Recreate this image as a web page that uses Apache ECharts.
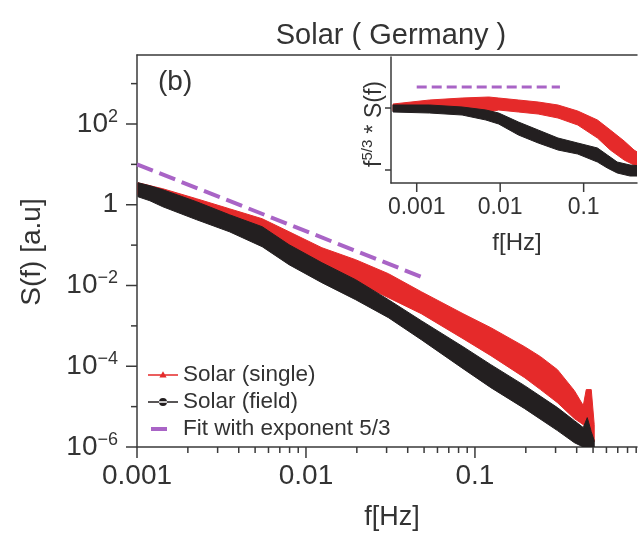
<!DOCTYPE html>
<html><head><meta charset="utf-8">
<script src="https://cdn.jsdelivr.net/npm/echarts@6/dist/echarts.min.js"></script>
<style>html,body{margin:0;padding:0;background:#fff}#c{width:640px;height:536px}</style>
</head><body><div id="c"></div>
<script>
const FONT = 'Liberation Sans, Arial, Helvetica, sans-serif';
const TEXT = '#333333';
const AXIS = '#3a3a3a';
const RED = '#e52a2a';
const BLACK = '#231f20';
const PURPLE = '#a964c6';

const titleText = 'Solar ( Germany )';
const panelLabel = '(b)';
const seriesNames = ['Solar (single)', 'Solar (field)', 'Fit with exponent 5/3'];
const mainXName = 'f[Hz]';
const mainYName = 'S(f) [a.u]';
const insetXName = 'f[Hz]';

// ---- main panel ticks ----
const mainXRange = [0.001, 0.91];
const mainYRange = [1e-6, 5117];
const mainXTickValues = [0.001, 0.01, 0.1];
const mainXTickLabels = ['0.001', '0.01', '0.1'];
const mainXMinorTicks = [0.002,0.003,0.004,0.005,0.006,0.007,0.008,0.009,
  0.02,0.03,0.04,0.05,0.06,0.07,0.08,0.09,0.2,0.3,0.4,0.5,0.6,0.7,0.8,0.9];
const mainYTickValues = [1e-6, 1e-4, 1e-2, 1, 1e2];
const mainYTickLabels = ['10^\u22126', '10^\u22124', '10^\u22122', '1', '10^2'];
const mainYMinorTicks = [1e-5, 1e-3, 0.1, 10, 1e3];

// ---- main panel data (band envelopes) ----
const singleFreq  = [0.001014,0.001422,0.002254,0.003524,0.005509,0.007943,0.01242,0.01968,0.03078,0.04812,0.085,0.1242,0.1968,0.2444,0.3078,0.3876,0.4377,0.4558,0.4878,0.508];
const singleUpper = [3.505,2.489,1.408,0.796,0.450,0.2146,0.0862,0.0435,0.01959,0.00702,0.002004,9.02e-4,3.05e-4,1.728e-4,8.24e-5,2.49e-5,1.059e-5,2.64e-5,2.64e-5,3.58e-6];
const singleLower = [1.768,1.0,0.534,0.2853,0.1361,0.0686,0.02758,0.01242,0.00499,0.002004,4.82e-4,1.83e-4,5.22e-5,2.64e-5,1.256e-5,5.05e-6,3.58e-6,3.02e-6,2.40e-6,1.36e-6];

const fieldFreq  = [0.001014,0.001192,0.001422,0.002254,0.003524,0.005509,0.007943,0.01242,0.01968,0.03078,0.04812,0.085,0.1242,0.1968,0.3078,0.3876,0.4377,0.462,0.4878,0.508];
const fieldUpper = [3.505,2.953,2.351,1.186,0.5655,0.2853,0.1023,0.03667,0.01391,0.00445,0.001345,3.05e-4,1.095e-4,3.31e-5,9.45e-6,4.50e-6,3.02e-6,5.34e-6,2.40e-6,1.44e-6];
const fieldLower = [1.578,1.256,0.892,0.4253,0.2146,0.0913,0.03272,0.01173,0.00445,0.001596,4.55e-4,8.72e-5,2.95e-5,8.92e-6,2.55e-6,1.28e-6,1e-6,1e-6,1e-6,1e-6];

const fitFreq = [0.001, 0.048];
const fitValue = [10, 0.0165];

// ---- inset ----
const insetXRange = [4.92e-4, 0.4357];
const insetYRange = [0.00381, 44.2];
const insetXTickValues = [0.001, 0.01, 0.1];
const insetXTickLabels = ['0.001', '0.01', '0.1'];
const insetYTicks = [1, 0.01];

const insetSingleFreq  = [5.2e-4,0.001425,0.003502,0.00731,0.009598,0.01656,0.02855,0.04924,0.08492,0.1464,0.2087,0.3057,0.4015,0.4989];
const insetSingleUpper = [1.346,1.812,2.10,2.264,2.10,1.812,1.561,1.25,0.800,0.410,0.1951,0.0862,0.0442,0.0305];
const insetSingleLower = [0.800,0.928,0.862,0.743,0.862,0.743,0.640,0.476,0.2829,0.1077,0.0442,0.0210,0.0145,0.0116];

const insetFieldFreq  = [5.2e-4,0.001425,0.003502,0.006738,0.009598,0.01656,0.02855,0.04924,0.08492,0.1464,0.1923,0.2526,0.3599,0.4989];
const insetFieldUpper = [1.25,1.25,1.077,0.862,0.690,0.3535,0.1951,0.1077,0.0743,0.0513,0.0305,0.0181,0.0145,0.01346];
const insetFieldLower = [0.743,0.690,0.594,0.410,0.3047,0.1346,0.0743,0.0442,0.0328,0.0181,0.0116,0.0080,0.0064,0.0064];

const insetFitFreq = [0.001, 0.052];
const insetFitValue = [4.76, 4.76];

// ---- helpers ----
function lookup(v, vals, labels) {
  for (let i = 0; i < vals.length; i++) {
    if (Math.abs(Math.log10(v) - Math.log10(vals[i])) < 1e-4) return labels[i];
  }
  return '';
}
function zip(a, b) { return a.map((x, i) => [x, b[i]]); }

function bandSeries(name, color, freq, lower, upper, xi, yi) {
  return {
    name: name, type: 'custom', xAxisIndex: xi, yAxisIndex: yi, clip: true, silent: true,
    color: color, itemStyle: { color: color }, z: 2,
    data: freq.map((f, i) => [f, lower[i], upper[i]]),
    encode: { x: 0, y: [1, 2] },
    renderItem: function (params, api) {
      if (params.dataIndexInside !== 0) return null;
      const n = params.dataInsideLength;
      const top = [], bot = [];
      for (let i = 0; i < n; i++) {
        top.push(api.coord([api.value(0, i), api.value(2, i)]));
        bot.push(api.coord([api.value(0, i), api.value(1, i)]));
      }
      return { type: 'polygon', shape: { points: top.concat(bot.reverse()) },
               style: { fill: color, stroke: color, lineWidth: 1 } };
    }
  };
}

function tickSeries(items, xi, yi) {
  return {
    type: 'custom', xAxisIndex: xi, yAxisIndex: yi, clip: false, silent: true, z: 6,
    data: items,
    renderItem: function (params, api) {
      const p = api.coord([api.value(0), api.value(1)]);
      const dir = api.value(2), len = api.value(3);
      const shape = dir === 0
        ? { x1: p[0], y1: p[1], x2: p[0], y2: p[1] + len }
        : { x1: p[0], y1: p[1], x2: p[0] - len, y2: p[1] };
      return { type: 'line', shape: shape, style: { stroke: AXIS, lineWidth: 1.5 } };
    }
  };
}

const mainTicks = []
  .concat(mainXTickValues.map(v => [v, mainYRange[0], 0, 11]))
  .concat(mainXMinorTicks.map(v => [v, mainYRange[0], 0, 6]))
  .concat(mainYTickValues.map(v => [mainXRange[0], v, 1, 11]))
  .concat(mainYMinorTicks.map(v => [mainXRange[0], v, 1, 6]));
const insetTicks = []
  .concat(insetXTickValues.map(v => [v, insetYRange[0], 0, 9]))
  .concat(insetYTicks.map(v => [insetXRange[0], v, 1, 6]));

const axisLine = { show: true, onZero: false, lineStyle: { color: AXIS, width: 1.5 } };

const chart = echarts.init(document.getElementById('c'), null, { renderer: 'canvas' });
chart.setOption({
  animation: false,
  backgroundColor: '#ffffff',
  textStyle: { fontFamily: FONT },
  grid: [
    { left: 137, top: 55, right: 0, height: 392 },
    { left: 391, top: 57, right: 0, height: 126 }
  ],
  xAxis: [
    { gridIndex: 0, type: 'log', min: mainXRange[0], max: mainXRange[1], position: 'bottom',
      axisLine: axisLine, splitLine: { show: false }, axisTick: { show: false },
      axisLabel: { fontSize: 28, color: TEXT, fontFamily: FONT, margin: 15,
        formatter: v => lookup(v, mainXTickValues, mainXTickLabels) } },
    { gridIndex: 0, type: 'log', min: mainXRange[0], max: mainXRange[1], position: 'top',
      axisLine: axisLine, splitLine: { show: false }, axisTick: { show: false }, axisLabel: { show: false } },
    { gridIndex: 1, type: 'log', min: insetXRange[0], max: insetXRange[1], position: 'bottom',
      axisLine: axisLine, splitLine: { show: false }, axisTick: { show: false },
      axisLabel: { fontSize: 23, color: TEXT, fontFamily: FONT, margin: 13,
        formatter: v => lookup(v, insetXTickValues, insetXTickLabels) } }
  ],
  yAxis: [
    { gridIndex: 0, type: 'log', min: mainYRange[0], max: mainYRange[1],
      axisLine: axisLine, splitLine: { show: false }, axisTick: { show: false },
      axisLabel: { margin: 19, color: TEXT,
        formatter: function (v) {
          const lab = lookup(v, mainYTickValues, mainYTickLabels);
          if (!lab) return '';
          if (lab.indexOf('^') >= 0) { const p = lab.split('^'); return '{b|' + p[0] + '}{s|' + p[1] + '}'; }
          return '{b|' + lab + '}';
        },
        rich: {
          b: { fontSize: 28, lineHeight: 32, fontFamily: FONT, color: TEXT },
          s: { fontSize: 18, lineHeight: 22, fontFamily: FONT, color: TEXT, verticalAlign: 'top' }
        } } },
    { gridIndex: 1, type: 'log', min: insetYRange[0], max: insetYRange[1],
      axisLine: axisLine, splitLine: { show: false }, axisTick: { show: false }, axisLabel: { show: false } }
  ],
  legend: {
    orient: 'vertical', left: 148, top: 363, padding: 0,
    itemWidth: 30, itemHeight: 14, itemGap: 3,
    textStyle: { fontSize: 22.5, color: TEXT, fontFamily: FONT, lineHeight: 24 },
    data: [
      { name: seriesNames[0], icon: 'path://M0 0M30 14M0 6.2H30V7.8H0Z M15 3.2L18.6 9.6H11.4Z' },
      { name: seriesNames[1], icon: 'path://M0 0M30 14M0 6.2H30V7.8H0Z M11 7A4 4 0 1 0 19 7A4 4 0 1 0 11 7Z' },
      { name: seriesNames[2], icon: 'path://M0 0M30 14M3 5H19V9H3Z' }
    ]
  },
  graphic: [
    { type: 'text', x: 391, y: 36, style: { text: titleText, font: '29px ' + FONT, fill: TEXT, align: 'center', verticalAlign: 'middle' } },
    { type: 'text', x: 158, y: 82, style: { text: panelLabel, font: '28px ' + FONT, fill: TEXT, align: 'left', verticalAlign: 'middle' } },
    { type: 'text', x: 32, y: 252, rotation: Math.PI / 2, style: { text: mainYName, font: '28px ' + FONT, fill: TEXT, align: 'center', verticalAlign: 'middle' } },
    { type: 'text', x: 392, y: 518, style: { text: mainXName, font: '27px ' + FONT, fill: TEXT, align: 'center', verticalAlign: 'middle' } },
    { type: 'text', x: 517, y: 243, style: { text: insetXName, font: '24px ' + FONT, fill: TEXT, align: 'center', verticalAlign: 'middle' } },
    { type: 'text', x: 373, y: 124, rotation: Math.PI / 2,
      style: { text: '{a|f}{s|5/3}{a| * S(f)}', align: 'center', verticalAlign: 'middle',
        rich: { a: { fontSize: 23, fontFamily: FONT, fill: TEXT, lineHeight: 26, verticalAlign: 'bottom' },
                s: { fontSize: 15, fontFamily: FONT, fill: TEXT, lineHeight: 18, verticalAlign: 'top' } } } }
  ],
  series: [
    bandSeries(seriesNames[0], RED, singleFreq, singleLower, singleUpper, 0, 0),
    bandSeries(seriesNames[1], BLACK, fieldFreq, fieldLower, fieldUpper, 0, 0),
    { name: seriesNames[2], type: 'line', xAxisIndex: 0, yAxisIndex: 0, z: 3,
      data: zip(fitFreq, fitValue), symbol: 'none', showSymbol: false, color: PURPLE, itemStyle: { color: PURPLE },
      lineStyle: { color: PURPLE, width: 4, type: [17, 7] } },
    bandSeries(seriesNames[0], RED, insetSingleFreq, insetSingleLower, insetSingleUpper, 2, 1),
    bandSeries(seriesNames[1], BLACK, insetFieldFreq, insetFieldLower, insetFieldUpper, 2, 1),
    { name: seriesNames[2], type: 'line', xAxisIndex: 2, yAxisIndex: 1, z: 3,
      data: zip(insetFitFreq, insetFitValue), symbol: 'none', showSymbol: false, color: PURPLE, itemStyle: { color: PURPLE },
      lineStyle: { color: PURPLE, width: 3, type: [10, 5] } },
    tickSeries(mainTicks, 0, 0),
    tickSeries(insetTicks, 2, 1)
  ]
});
</script>
</body></html>
